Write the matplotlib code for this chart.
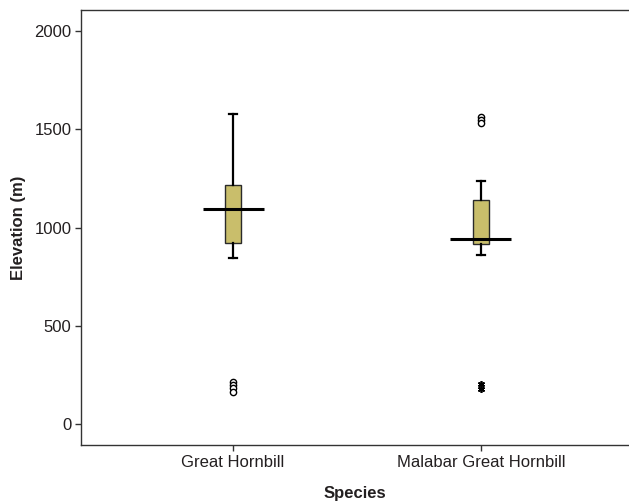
import matplotlib
matplotlib.use("Agg")
import matplotlib.pyplot as plt

categories = ["Great Hornbill", "Malabar Great Hornbill"]
whisker_low = [845, 860]
q1 = [921, 916]
median = [1094, 941]
q3 = [1216, 1140]
whisker_high = [1580, 1237]
outliers_circle = [[215, 200, 185, 165], [1563, 1547, 1532]]
outliers_star = [[], [205, 182]]
yticks = [0, 500, 1000, 1500, 2000]

text_color = "#231f20"
plt.rcParams['font.family'] = ['Liberation Sans', 'DejaVu Sans']

fig = plt.figure(figsize=(6.29, 5.04), dpi=100)
ax = fig.add_axes([81/629, 1-445/504, 1-81/629, (445-10)/504])

positions = [1, 2]
stats = []
for i in range(2):
    stats.append(dict(med=median[i], q1=q1[i], q3=q3[i], whislo=whisker_low[i],
                      whishi=whisker_high[i], fliers=[]))
ax.bxp(stats, positions=positions, widths=0.065, patch_artist=True, showfliers=False,
       boxprops=dict(facecolor="#c9be6b", edgecolor="#2a2a2a", linewidth=1.0),
       whiskerprops=dict(color="black", linewidth=1.6),
       capprops=dict(color="black", linewidth=1.6),
       medianprops=dict(linewidth=0))
ax.hlines(median, [p - 0.123 for p in positions], [p + 0.123 for p in positions],
          color="black", linewidth=2.2, zorder=5)

for p, vals in zip(positions, outliers_circle):
    if vals:
        ax.plot([p]*len(vals), vals, linestyle="none", marker="o", markersize=4.5,
                markerfacecolor="white", markeredgecolor="black", markeredgewidth=1.0, zorder=6)
for p, vals in zip(positions, outliers_star):
    if vals:
        ax.plot([p]*len(vals), vals, linestyle="none", marker=(6, 2, 0), markersize=5,
                color="black", markeredgewidth=1.2, zorder=6)

ax.set_xlim(0.387, 2.597)
ax.set_ylim(-105, 2107)
ax.set_xticks(positions)
ax.set_xticklabels(categories, fontsize=12, color=text_color)
ax.set_yticks(yticks)
ax.set_yticklabels([str(t) for t in yticks], fontsize=12, color=text_color)
ax.set_xlabel("Species", fontsize=12, fontweight="bold", color=text_color, labelpad=12)
ax.set_ylabel("Elevation (m)", fontsize=12, fontweight="bold", color=text_color, labelpad=6)
ax.tick_params(axis='both', length=4, width=1, color="#333333", pad=3)
for s in ["left", "bottom", "top"]:
    ax.spines[s].set_color("#333333")
    ax.spines[s].set_linewidth(1.0)
ax.spines["right"].set_visible(False)

fig.savefig("out.png", dpi=100)
